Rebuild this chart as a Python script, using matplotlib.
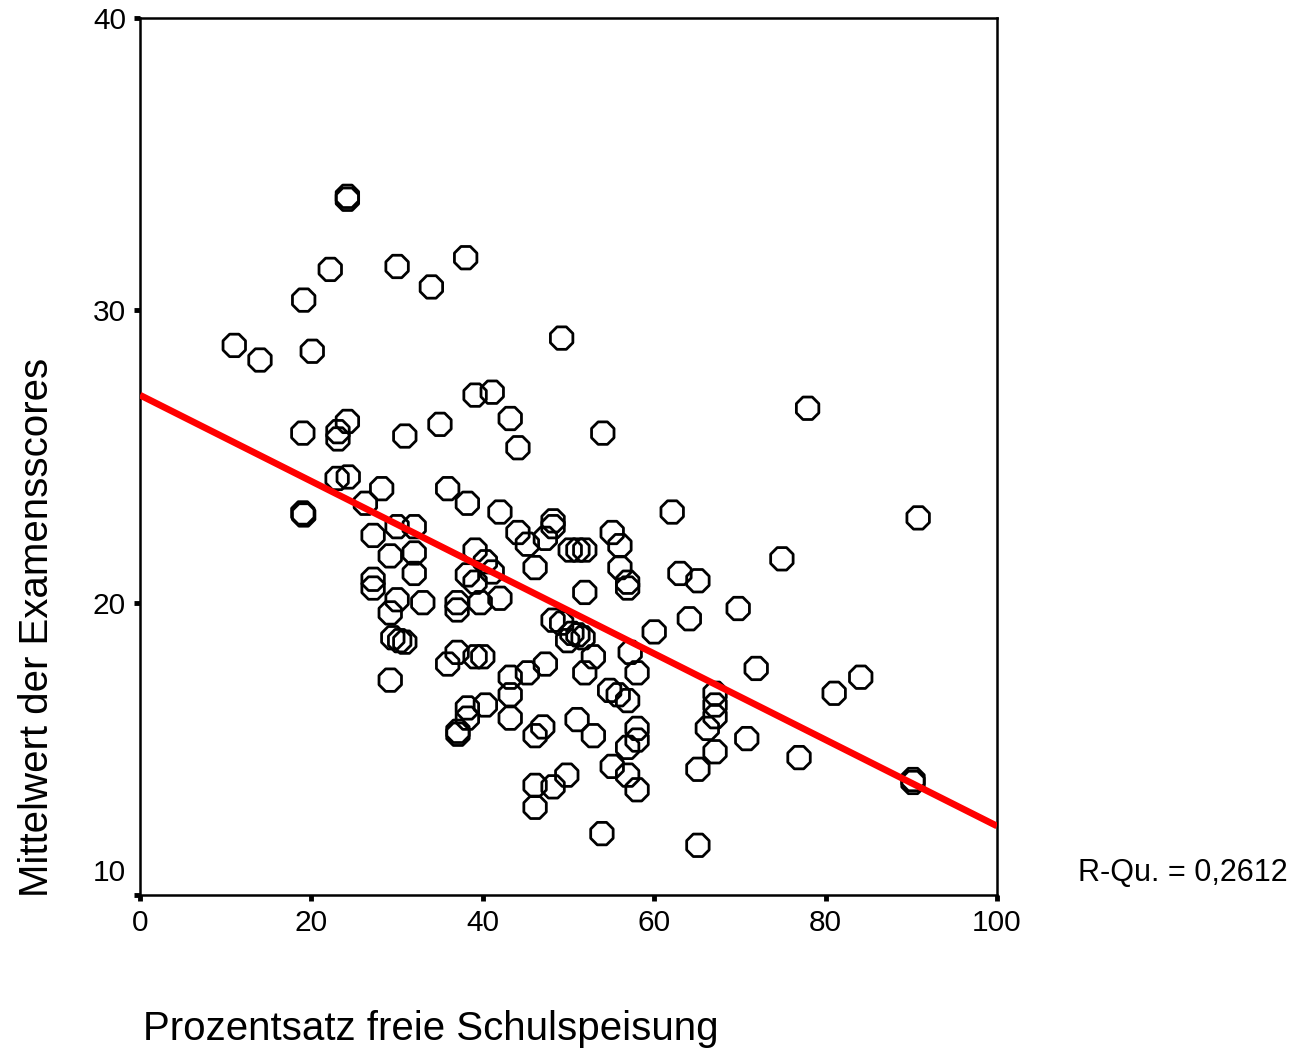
import matplotlib
matplotlib.use("Agg")
import matplotlib.pyplot as plt
import numpy as np

# Data (percent free school meals vs mean exam score)
free_meals = [
    24.2, 24.2, 22.2, 30.0, 38.0, 34.0, 19.1, 11.0, 14.0, 20.1,
    49.2, 41.1, 39.1, 77.9, 43.2, 35.0, 24.2, 23.1, 23.1, 19.0,
    30.9, 54.0, 44.1, 23.0, 24.3, 35.9, 28.2, 26.3, 38.2, 19.0,
    19.1, 42.0, 62.1, 90.8, 30.0, 32.0, 48.2, 48.2, 44.1, 27.2,
    45.2, 47.3, 55.1, 56.0, 50.2, 51.1, 51.9, 29.2, 32.0, 39.1,
    40.3, 41.1, 38.2, 39.1, 74.9, 46.1, 56.0, 56.9, 56.9, 63.0,
    65.1, 27.2, 27.2, 32.0, 51.9, 42.0, 39.7, 30.0, 33.0, 37.0,
    37.0, 69.8, 29.2, 60.0, 64.1, 48.2, 49.2, 50.4, 51.1, 49.9,
    51.7, 29.5, 30.3, 30.9, 57.2, 52.9, 37.0, 39.1, 40.0, 35.9,
    47.3, 71.9, 51.9, 58.0, 43.2, 45.2, 84.1, 29.2, 81.0, 43.2,
    54.8, 55.8, 56.9, 67.1, 67.1, 67.1, 38.2, 40.3, 38.2, 51.0,
    43.2, 66.2, 58.0, 58.0, 37.1, 37.1, 47.0, 46.1, 52.9, 70.8,
    56.9, 67.1, 76.9, 55.1, 65.1, 56.9, 49.8, 90.2, 90.2, 46.1,
    48.2, 58.0, 46.1, 53.9, 65.1,
]
exam_scores = [
    33.9, 33.8, 31.4, 31.5, 31.8, 30.8, 30.35, 28.8, 28.3, 28.6,
    29.05, 27.2, 27.1, 26.65, 26.3, 26.1, 26.2, 25.85, 25.6, 25.8,
    25.7, 25.8, 25.3, 24.25, 24.3, 23.9, 23.9, 23.4, 23.4, 23.07,
    23.0, 23.1, 23.1, 22.9, 22.6, 22.6, 22.8, 22.6, 22.4, 22.3,
    22.0, 22.2, 22.4, 21.95, 21.8, 21.8, 21.8, 21.6, 21.7, 21.8,
    21.4, 21.05, 20.95, 20.7, 21.5, 21.2, 21.2, 20.7, 20.5, 21.0,
    20.75, 20.8, 20.5, 21.0, 20.35, 20.15, 20.0, 20.1, 20.0, 20.0,
    19.75, 19.8, 19.65, 19.0, 19.45, 19.4, 19.3, 18.95, 18.9, 18.7,
    18.8, 18.8, 18.7, 18.65, 18.3, 18.15, 18.3, 18.15, 18.15, 17.9,
    17.9, 17.75, 17.6, 17.6, 17.45, 17.6, 17.45, 17.35, 16.9, 16.85,
    17.0, 16.85, 16.65, 16.9, 16.5, 16.1, 16.4, 16.5, 16.05, 16.0,
    16.05, 15.7, 15.7, 15.3, 15.6, 15.5, 15.75, 15.45, 15.45, 15.35,
    15.05, 14.9, 14.7, 14.4, 14.3, 14.1, 14.1, 13.95, 13.85, 13.75,
    13.7, 13.6, 13.0, 12.1, 11.7,
]

# Linear fit line as shown in the reference
fit_intercept = 27.1
fit_slope = -0.1474
fit_x = [0, 100]
r_squared_text = "R-Qu. = 0,2612"

x_ticks = [0, 20, 40, 60, 80, 100]
y_ticks = [10, 20, 30, 40]
x_label = "Prozentsatz freie Schulspeisung"
y_label = "Mittelwert der Examensscores"

plt.rcParams['font.family'] = ['Liberation Sans', 'DejaVu Sans']

W, H = 1300, 1050
fig = plt.figure(figsize=(W / 100, H / 100), dpi=100)
ax = fig.add_axes([140 / W, 1 - 895 / H, (997 - 140) / W, (895 - 18) / H])

ax.scatter(free_meals, exam_scores, marker='8', s=17.5 ** 2,
           facecolors='none', edgecolors='black', linewidths=2.0, zorder=2)

fx = np.array(fit_x, dtype=float)
ax.plot(fx, fit_intercept + fit_slope * fx, color='#ff0000', lw=4.8,
        solid_capstyle='butt', zorder=3)

ax.set_xlim(0, 100)
ax.set_ylim(10, 40)
ax.set_xticks(x_ticks)
ax.set_xticklabels([str(t) for t in x_ticks])
ax.set_yticks(y_ticks)
ax.set_yticklabels(['' if t == 10 else str(t) for t in y_ticks])
ax.tick_params(axis='both', direction='out', length=4, width=3.5,
               labelsize=21.5, color='black', pad=6)

for s in ax.spines.values():
    s.set_linewidth(1.8)
    s.set_color('black')

# "10" label shifted upward as in the reference
ax.annotate(str(y_ticks[0]), xy=(0, y_ticks[0]),
            xycoords=('axes fraction', 'data'),
            xytext=(-10, 16), textcoords='offset points',
            ha='right', va='center', fontsize=21.5)

fig.text(143 / W, 1 - 1029 / H, x_label, ha='left', va='center', fontsize=29)
fig.text(37 / W, 1 - 897 / H, y_label, rotation=90, ha='center',
         va='bottom', fontsize=29)
fig.text(1078 / W, 1 - 873 / H, r_squared_text, ha='left', va='center',
         fontsize=22)

fig.savefig('out.png', dpi=100)
